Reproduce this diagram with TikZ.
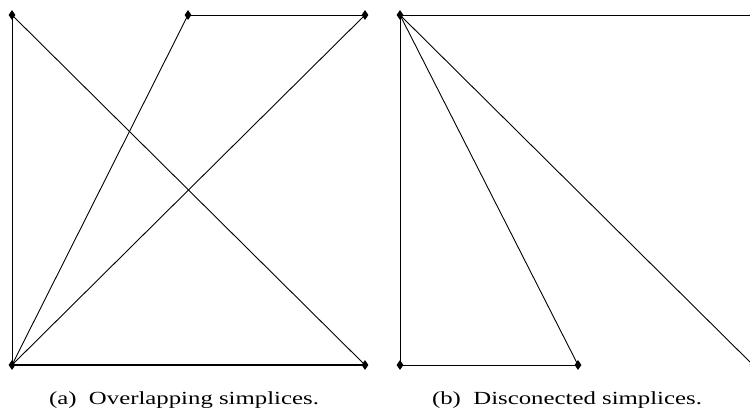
\documentclass[tikz,border=0pt]{standalone}
\usepackage{fontspec}
\setmainfont{Liberation Serif}
\usetikzlibrary{shapes.geometric}
\newcommand{\widetxt}[1]{\scalebox{1.34}[1]{#1}}
\begin{document}
\begin{tikzpicture}[x=1pt,y=-1pt,
  vtx/.style={diamond,fill=black,draw=none,inner sep=0pt,minimum width=7pt,minimum height=10pt},
  lnk/.style={line width=0.9pt},
  captxt/.style={font=\fontsize{18.5}{22}\selectfont,inner sep=0pt,anchor=base}]
\clip (0,0) rectangle (750,412);
\useasboundingbox (0,0) rectangle (750,412);
% panel (a)
\node[vtx] (a1) at (12,15) {};
\node[vtx] (a2) at (188,15) {};
\node[vtx] (a3) at (365,15) {};
\node[vtx] (a4) at (12,365) {};
\node[vtx] (a5) at (365,365) {};
\draw[lnk] (a1.center) -- (a4.center);
\draw[lnk] (a1.center) -- (a5.center);
\draw[lnk] (a2.center) -- (a3.center);
\draw[lnk] (a2.center) -- (a4.center);
\draw[lnk] (a3.center) -- (a4.center);
\draw[lnk,line width=1.4pt] (a4.center) -- (a5.center);
% panel (b)
\node[vtx] (b1) at (400,15) {};
\node[vtx] (b2) at (753,15) {};
\node[vtx] (b3) at (400,365) {};
\node[vtx] (b4) at (578,365) {};
\node[vtx] (b5) at (753,365) {};
\draw[lnk] (b1.center) -- (b2.center);
\draw[lnk] (b1.center) -- (b3.center);
\draw[lnk] (b1.center) -- (b4.center);
\draw[lnk] (b1.center) -- (b5.center);
\draw[lnk] (b3.center) -- (b4.center);
% captions
\node[captxt] (capa) at (184,404) {\widetxt{(a)\enspace Overlapping simplices.}};
\node[captxt] (capb) at (567,404) {\widetxt{(b)\enspace Disconected simplices.}};
\end{tikzpicture}
\end{document}
